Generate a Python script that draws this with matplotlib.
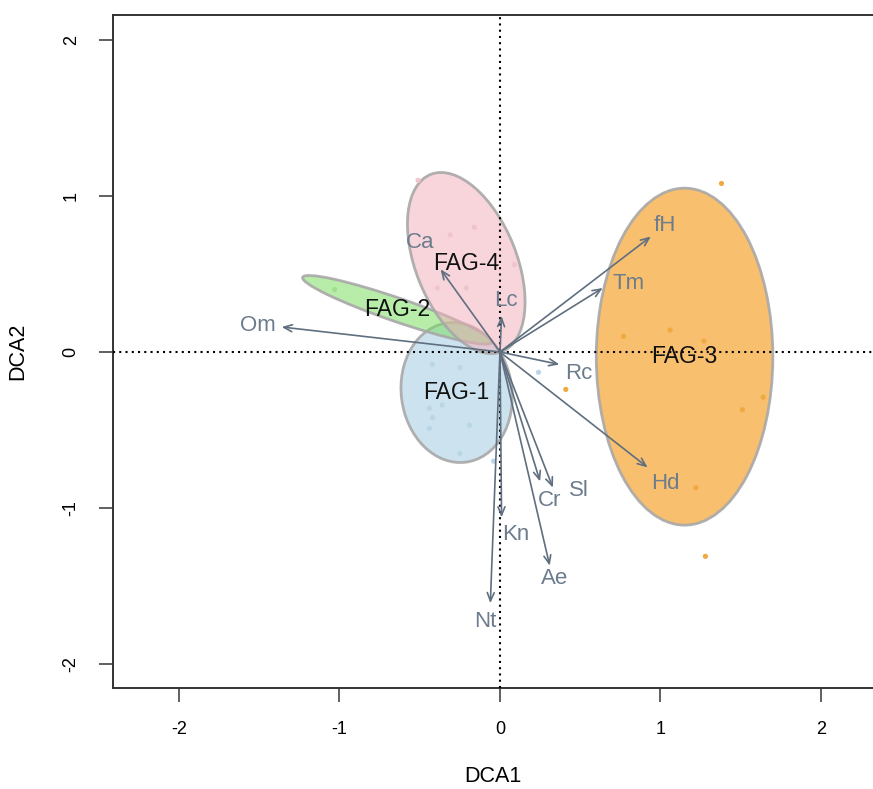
import numpy as np
import matplotlib
matplotlib.use('Agg')
import matplotlib.pyplot as plt
from matplotlib.patches import Ellipse

plt.rcParams['font.family'] = ['Liberation Sans', 'DejaVu Sans']
plt.rcParams['axes.unicode_minus'] = False

# groups (ellipse centre, full axes, angle)
groups = ['FAG-1', 'FAG-2', 'FAG-3', 'FAG-4']
ell_x = [-0.27, -0.64, 1.15, -0.21]
ell_y = [-0.26, 0.27, -0.03, 0.57]
ell_w = [0.90, 1.25, 2.16, 1.22]
ell_h = [0.69, 0.15, 1.10, 0.63]
ell_ang = [97, -19.5, 90, 111]
fill = ['#9bc9e1', '#73dd55', '#f7ae46', '#f3adb9']
fill_alpha = [0.5, 0.5, 0.78, 0.5]
dot_col = ['#b9d6e6', '#9ee08a', '#f0a940', '#f1c4cb']

# site scores per group
pts = {
    'FAG-1': ([-0.42, -0.25, -0.36, -0.44, -0.42, -0.44, -0.19, -0.25, 0.24, -0.04],
              [-0.08, -0.10, -0.34, -0.36, -0.42, -0.49, -0.47, -0.65, -0.13, -0.70]),
    'FAG-2': ([-1.03], [0.40]),
    'FAG-3': ([1.38, 0.77, 1.06, 1.27, 1.64, 1.51, 1.22, 1.28, 0.41],
              [1.08, 0.10, 0.14, 0.07, -0.29, -0.37, -0.87, -1.31, -0.24]),
    'FAG-4': ([-0.51, -0.31, -0.16, 0.09, -0.39, -0.21],
              [1.10, 0.75, 0.80, 0.56, 0.41, 0.41]),
}

# environmental vectors
env = ['Om', 'Ca', 'Lc', 'fH', 'Tm', 'Rc', 'Hd', 'Cr', 'Sl', 'Kn', 'Ae', 'Nt']
env_x = [-1.36, -0.37, 0.01, 0.94, 0.64, 0.37, 0.92, 0.25, 0.33, 0.01, 0.31, -0.06]
env_y = [0.16, 0.53, 0.23, 0.74, 0.41, -0.08, -0.74, -0.83, -0.87, -1.06, -1.37, -1.61]
lab_x = [-1.51, -0.50, 0.04, 1.03, 0.80, 0.49, 1.03, 0.31, 0.49, 0.10, 0.34, -0.09]
lab_y = [0.17, 0.70, 0.33, 0.81, 0.44, -0.14, -0.84, -0.95, -0.89, -1.17, -1.45, -1.73]

fig = plt.figure(figsize=(8.73, 7.89), dpi=100)
ax = fig.add_axes([0.1294, 0.128, 0.8706, 0.853])

for i, g in enumerate(groups):
    e = Ellipse((ell_x[i], ell_y[i]), ell_w[i], ell_h[i], angle=ell_ang[i],
                facecolor=fill[i], alpha=fill_alpha[i], edgecolor='none', zorder=1 + i)
    ax.add_patch(e)
    e2 = Ellipse((ell_x[i], ell_y[i]), ell_w[i], ell_h[i], angle=ell_ang[i],
                 facecolor='none', edgecolor='#a8a8a8', lw=2, alpha=0.9, zorder=1 + i)
    ax.add_patch(e2)

for i, g in enumerate(groups):
    px, py = pts[g]
    ax.scatter(px, py, s=14, color=dot_col[i], edgecolors='none', zorder=6)

ax.axhline(0, color='black', ls=(0, (1, 2)), lw=1.5, zorder=7)
ax.axvline(0, color='black', ls=(0, (1, 2)), lw=1.5, zorder=7)

for i, name in enumerate(env):
    ax.annotate('', xy=(env_x[i], env_y[i]), xytext=(0, 0),
                arrowprops=dict(arrowstyle='->,head_length=0.6,head_width=0.25',
                                color='#5f6f7f', lw=1.2, shrinkA=0, shrinkB=0),
                zorder=8)
    ax.text(lab_x[i], lab_y[i], name, color='#6c7c8c', fontsize=16,
            ha='center', va='center', zorder=9)

for i, g in enumerate(groups):
    ax.text(ell_x[i], ell_y[i], g, color='#111111', fontsize=16.5,
            ha='center', va='center', zorder=10)

ax.set_xlim(-2.411, 2.324)
ax.set_ylim(-2.154, 2.160)
ax.set_xticks([-2, -1, 0, 1, 2])
ax.set_yticks([-2, -1, 0, 1, 2])
ax.spines['right'].set_visible(False)
for s in ['left', 'top', 'bottom']:
    ax.spines[s].set_color('#333333')
    ax.spines[s].set_linewidth(1.4)
ax.tick_params(length=10, width=1.2, color='#444444', pad=14, labelsize=13)
for lab in ax.get_yticklabels():
    lab.set_rotation(90)
    lab.set_va('center')

ax.set_xlabel('DCA1', fontsize=15.5, labelpad=20)
ax.set_ylabel('DCA2', fontsize=15.5, labelpad=25)

fig.savefig('out.png', dpi=100)
